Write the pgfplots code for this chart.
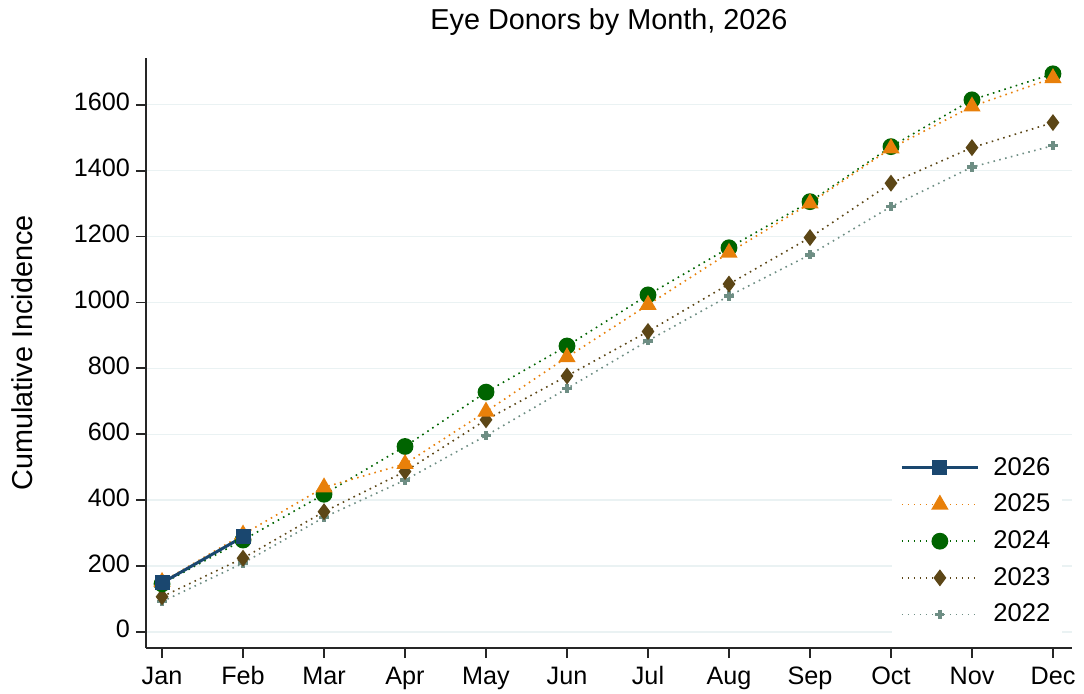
\documentclass[border=0pt]{standalone}
\usepackage{pgfplots}
\pgfplotsset{compat=1.18}
\usepackage{fontspec}
\setmainfont{Liberation Sans}
\definecolor{c26}{RGB}{26,71,111}
\definecolor{c25}{RGB}{232,128,10}
\definecolor{c24}{RGB}{0,100,0}
\definecolor{c23}{RGB}{92,70,22}
\definecolor{c22}{RGB}{110,142,132}
\definecolor{gridc}{RGB}{234,242,243}
\begin{document}
\begin{tikzpicture}
\useasboundingbox (0,0) rectangle (542pt,346.5pt);
\begin{axis}[
  at={(73pt,22.5pt)}, anchor=south west,
  scale only axis, width=463pt, height=295pt,
  xmin=0.802, xmax=12.235, ymin=-48.6, ymax=1742,
  axis x line*=bottom, axis y line*=left,
  axis line style={-, line width=0.9pt, black!85},
  xtick={1,...,12},
  xticklabels={Jan,Feb,Mar,Apr,May,Jun,Jul,Aug,Sep,Oct,Nov,Dec},
  ytick={0,200,...,1600},
  tick align=outside, major tick length=5pt,
  tick style={line width=0.9pt, black!85},
  ymajorgrids, grid style={gridc, line width=0.7pt},
  ticklabel style={font=\fontsize{12.6}{15}\selectfont},
  typeset ticklabels with strut,
  xticklabel style={yshift=1pt},
  yticklabel style={xshift=0.5pt},
  /pgf/number format/assume math mode=true,
  scaled y ticks=false,
  /pgf/number format/1000 sep={},
  title={Eye Donors by Month, 2026},
  every axis title/.style={at={(axis description cs:0.5,1.061)}, anchor=center, font=\fontsize{14.4}{17}\selectfont},
  ylabel={Cumulative Incidence},
  every axis y label/.style={at={(axis description cs:-0.134,0.5)}, rotate=90, anchor=center, font=\fontsize{14.4}{17}\selectfont},
  legend style={at={(axis description cs:0.99,0.018)}, anchor=south east, draw=none, fill=white,
    font=\fontsize{12.8}{15}\selectfont, row sep=3.9pt, inner xsep=4pt, inner ysep=4pt,
    /tikz/every odd column/.append style={column sep=5pt}},
  legend cell align=left,
  reverse legend,
  legend image code/.code={\draw[mark repeat=2,mark phase=2] plot coordinates {(0pt,0pt) (19pt,0pt) (38pt,0pt)};},
]
\addplot[c22, line width=0.8pt, dash pattern=on 0.8pt off 2.2pt, mark=+, mark size=2.3pt, mark options={solid, line width=1.8pt}]
 coordinates {(1,92) (2,209) (3,348) (4,461) (5,596) (6,739) (7,884) (8,1020) (9,1145) (10,1291) (11,1411) (12,1476)};
\addplot[c23, line width=0.8pt, dash pattern=on 0.8pt off 2.2pt, mark=diamond*, mark size=3.6pt, mark options={solid}]
 coordinates {(1,107) (2,224) (3,365) (4,487) (5,644) (6,777) (7,912) (8,1056) (9,1197) (10,1362) (11,1470) (12,1546)};
\addplot[c24, line width=0.8pt, dash pattern=on 0.8pt off 2.2pt, mark=*, mark size=3.8pt, mark options={solid}]
 coordinates {(1,146) (2,279) (3,418) (4,563) (5,728) (6,868) (7,1023) (8,1166) (9,1306) (10,1473) (11,1615) (12,1694)};
\addplot[c25, line width=0.8pt, dash pattern=on 0.8pt off 2.2pt, mark=triangle*, mark size=4.2pt, mark options={solid}]
 coordinates {(1,152) (2,296) (3,439) (4,510) (5,669) (6,834) (7,993) (8,1151) (9,1301) (10,1468) (11,1595) (12,1681)};
\addplot[c26, line width=1.5pt, mark=square*, mark size=3pt, mark options={solid}]
 coordinates {(1,149) (2,289)};
\legend{2022,2023,2024,2025,2026}
\end{axis}
\end{tikzpicture}
\end{document}
